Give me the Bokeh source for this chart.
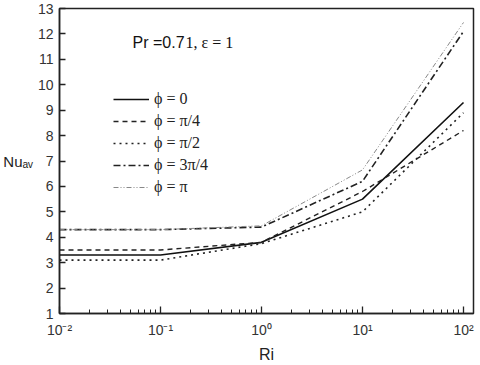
from bokeh.plotting import figure
from bokeh.models import (Range1d, LogTicker, FixedTicker, CustomJSTickFormatter,
                          Legend, LegendItem, Label)
from bokeh.embed import file_html
from bokeh.resources import INLINE

ri = [0.01, 0.1, 1, 10, 100]
nu_phi_0 = [3.3, 3.3, 3.8, 5.5, 9.3]
nu_phi_pi4 = [3.5, 3.5, 3.8, 5.8, 8.2]
nu_phi_pi2 = [3.1, 3.1, 3.75, 5.0, 8.9]
nu_phi_3pi4 = [4.3, 4.3, 4.4, 6.2, 12.1]
nu_phi_pi = [4.3, 4.3, 4.45, 6.65, 12.45]
series_labels = ["ϕ = 0", "ϕ = π/4", "ϕ = π/2", "ϕ = 3π/4", "ϕ = π"]
y_ticks = list(range(1, 14))

SERIF = "'Liberation Serif', 'Times New Roman', serif"
SANS = "'Liberation Sans', Arial, sans-serif"

p = figure(width=480, height=365, x_axis_type="log",
           x_range=Range1d(0.01, 125.6), y_range=Range1d(1, 13),
           output_backend="svg", toolbar_location=None,
           min_border_left=58, min_border_right=7,
           min_border_top=8, min_border_bottom=50)
p.background_fill_color = "white"
p.border_fill_color = "white"
p.outline_line_color = "#222222"
p.outline_line_width = 1.5
p.xgrid.visible = False
p.ygrid.visible = False

styles = [
    dict(line_color="#111111", line_width=1.6, line_dash="solid"),
    dict(line_color="#222222", line_width=1.4, line_dash="5 4"),
    dict(line_color="#222222", line_width=1.6, line_dash="2 4"),
    dict(line_color="#222222", line_width=1.6, line_dash="7 3 2 3"),
    dict(line_color="#888888", line_width=1.0, line_dash="5 2 1 2 1 2"),
]
all_series = [nu_phi_0, nu_phi_pi4, nu_phi_pi2, nu_phi_3pi4, nu_phi_pi]
items = []
for ys, st, lab in zip(all_series, styles, series_labels):
    r = p.line(ri, ys, **st)
    items.append(LegendItem(label=lab, renderers=[r]))

legend = Legend(items=items, location=(54, 116), padding=0, margin=0,
                spacing=2, glyph_width=36, glyph_height=20, label_height=20,
                label_standoff=5, background_fill_alpha=0, border_line_alpha=0,
                label_text_font=SERIF, label_text_font_size="16px",
                label_text_color="#222222")
p.add_layout(legend)

# axes
ax = p.xaxis[0]
ax.ticker = LogTicker(num_minor_ticks=10)
ax.formatter = CustomJSTickFormatter(code="""
const e = Math.round(Math.log10(tick));
const sup = {'-':'\u207B','0':'\u2070','1':'\u00B9','2':'\u00B2','3':'\u00B3','4':'\u2074','5':'\u2075'};
return '10' + String(e).split('').map(c => sup[c]).join('');
""")
ax.axis_label = "Ri"
ax.axis_label_text_font = SANS
ax.axis_label_text_font_style = "normal"
ax.axis_label_text_font_size = "16px"
ax.axis_label_text_color = "#222222"
ax.axis_label_standoff = 5
ax.major_label_text_font = SANS
ax.major_label_text_font_size = "14px"
ax.major_label_text_color = "#333333"
ax.major_label_standoff = 8
ax.major_tick_in = 7
ax.major_tick_out = 0
ax.minor_tick_in = 4
ax.minor_tick_out = 0
ax.axis_line_width = 1.5
ax.axis_line_color = "#222222"
ax.major_tick_line_color = "#222222"
ax.minor_tick_line_color = "#222222"
ax.major_tick_line_width = 1.3

ay = p.yaxis[0]
ay.ticker = FixedTicker(ticks=y_ticks)
ay.major_label_text_font = SANS
ay.major_label_text_font_size = "14px"
ay.major_label_text_color = "#333333"
ay.major_label_standoff = 6
ay.major_tick_in = 6
ay.major_tick_out = 0
ay.minor_tick_in = 0
ay.minor_tick_out = 0
ay.axis_line_width = 1.5
ay.axis_line_color = "#222222"
ay.major_tick_line_color = "#222222"
ay.major_tick_line_width = 1.3
ay.axis_label = "Nuₐᵥ"
ay.axis_label_text_font = SANS
ay.axis_label_text_font_style = "normal"
ay.axis_label_text_font_size = "15px"
ay.axis_label_text_color = "#222222"
ay.axis_label_standoff = 2
try:
    ay.axis_label_orientation = "horizontal"
except Exception:
    pass

# annotation
p.add_layout(Label(x=73, y=271, x_units="screen", y_units="screen", text="Pr =0.7",
                   text_font=SANS, text_font_size="16px",
                   text_color="#111111", text_baseline="middle"))
p.add_layout(Label(x=126, y=271, x_units="screen", y_units="screen", text="1, ε = 1",
                   text_font=SERIF, text_font_size="16px",
                   text_color="#111111", text_baseline="middle"))

open("out.html", "w").write(file_html(p, INLINE))
